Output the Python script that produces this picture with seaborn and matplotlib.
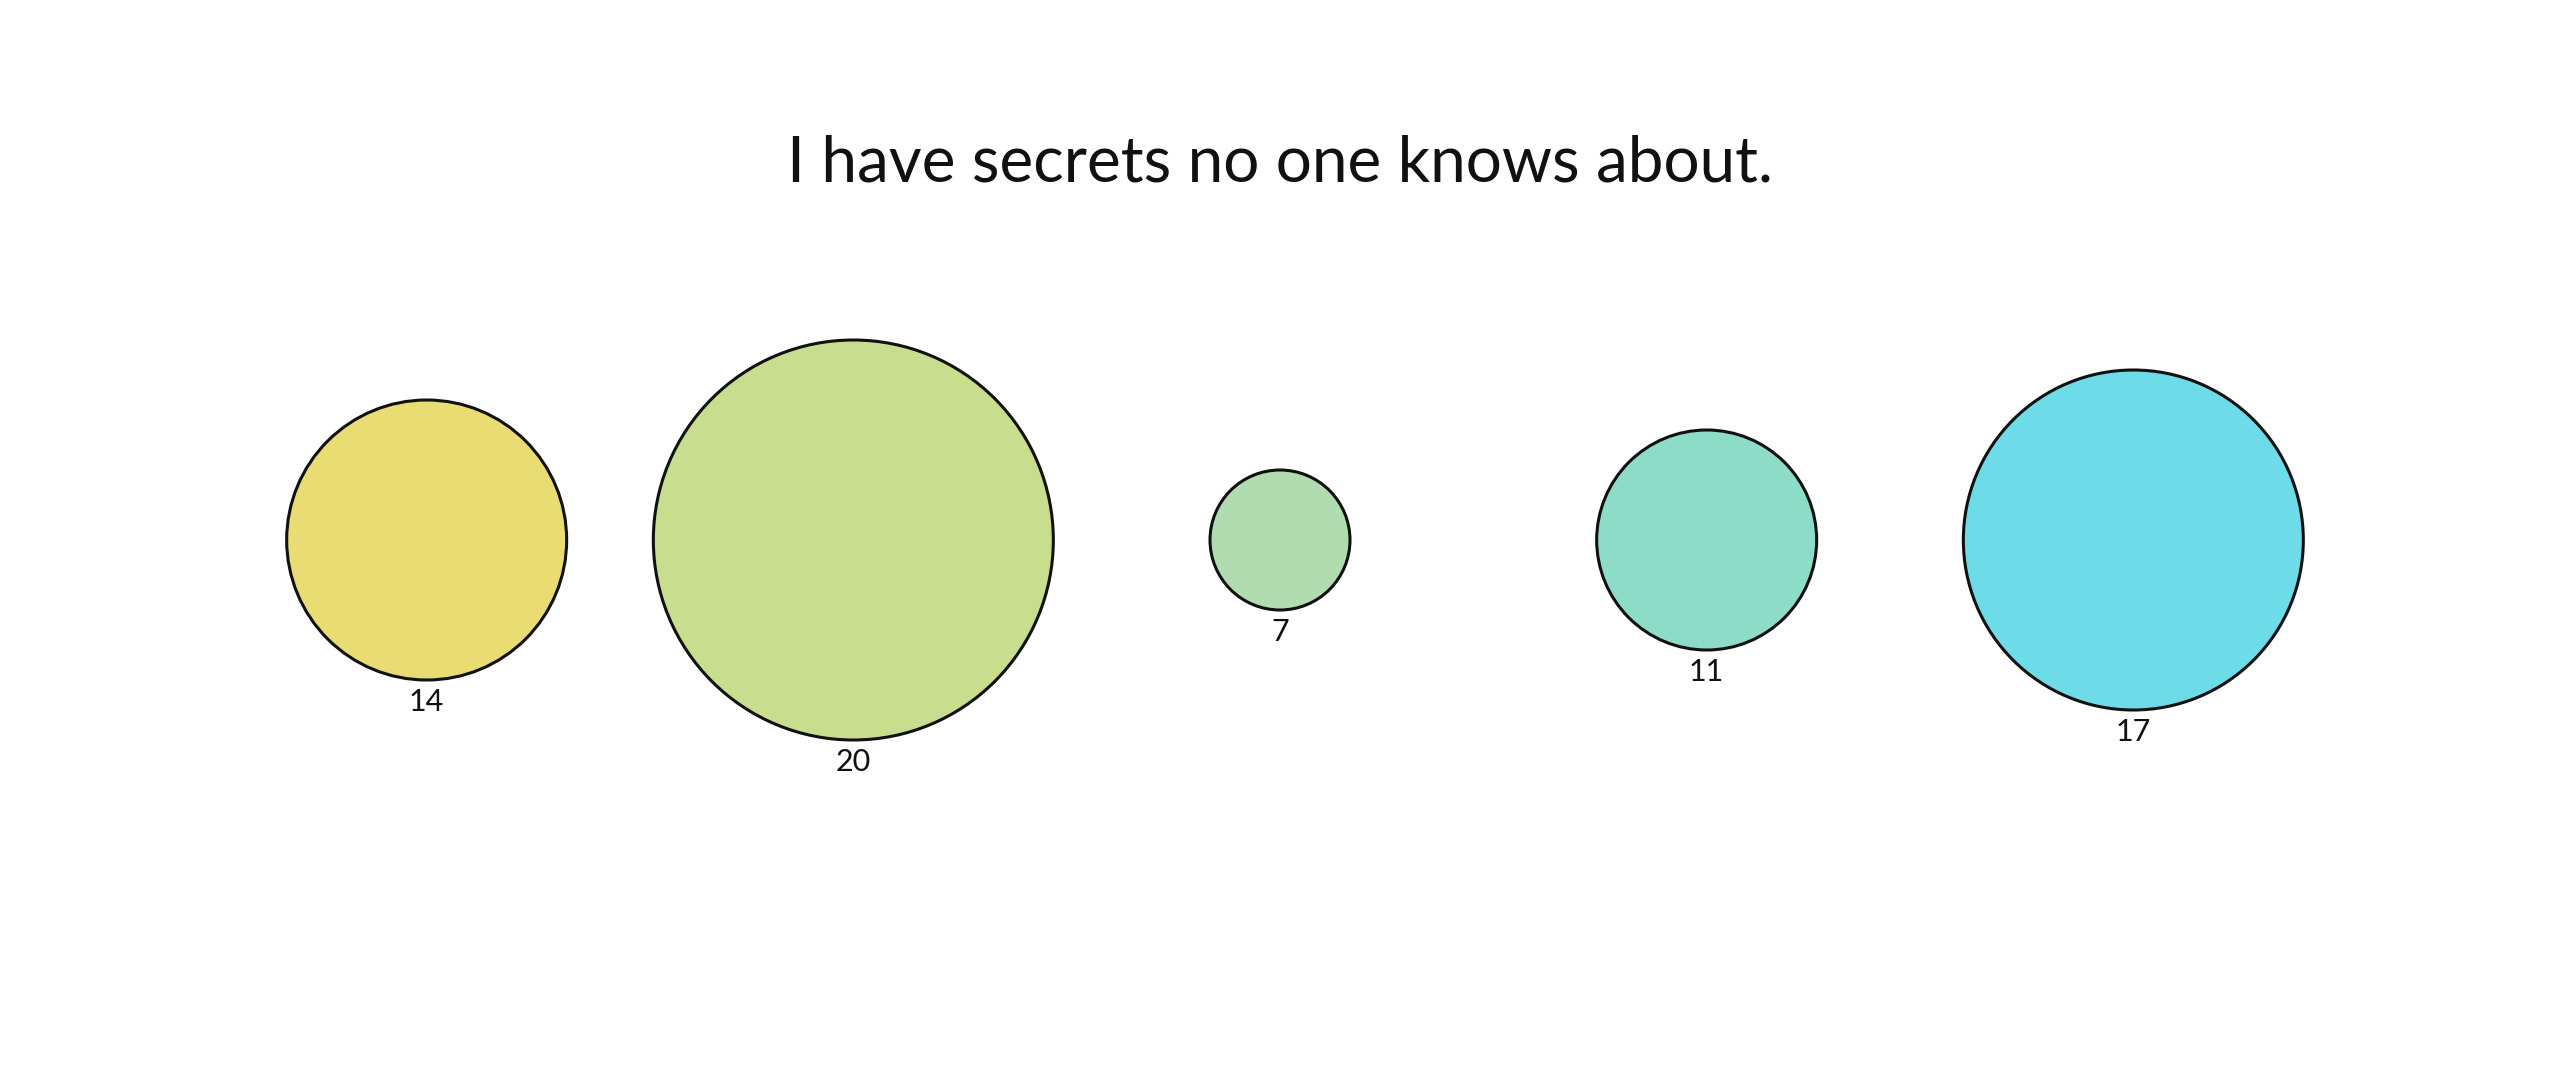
import pandas as pd
import matplotlib
matplotlib.use('Agg')
import matplotlib.pyplot as plt
import seaborn as sns

# data
labels = ['A', 'B', 'C', 'D', 'E']
values = [14, 20, 7, 11, 17]
colors = ['#E8DC72', '#C8DD8E', '#B1DCB0', '#8DDCC8', '#6DDCE8']
title = 'I have secrets no one knows about.'

data = pd.DataFrame({'label': labels, 'value': values, 'y': [0] * len(values)})
data['pos'] = range(len(data))

sns.set_theme(style='white')
plt.rcParams['font.family'] = ['Lato', 'DejaVu Sans']

DPI = 100
fig = plt.figure(figsize=(25.6, 10.8), dpi=DPI)
ax = fig.add_axes([0, 0, 1, 1])

# radius in pixels = 10 * value  ->  marker area in pt^2
px_per_unit = 10
sizes = {v: (2 * px_per_unit * v * 72 / DPI) ** 2 for v in values}

sns.scatterplot(data=data, x='pos', y='y', hue='label', palette=colors,
                size='value', sizes=sizes, edgecolor='#111111', linewidth=2.2,
                legend=False, ax=ax, zorder=3)

# value labels below each circle
for _, row in data.iterrows():
    r_pt = px_per_unit * row['value'] * 72 / DPI
    ax.annotate(str(row['value']), xy=(row['pos'], row['y']),
                xytext=(0, -(r_pt + 16)), textcoords='offset points',
                ha='center', va='center', fontsize=22, color='#111111')

ax.set_xlim(-1, 5)
ax.set_ylim(-1, 1)
ax.axis('off')

fig.text(0.5, 1 - 163 / 1080, title, ha='center', va='center',
         fontsize=46, color='#111111')

fig.savefig('out.png', dpi=DPI, facecolor='white')
